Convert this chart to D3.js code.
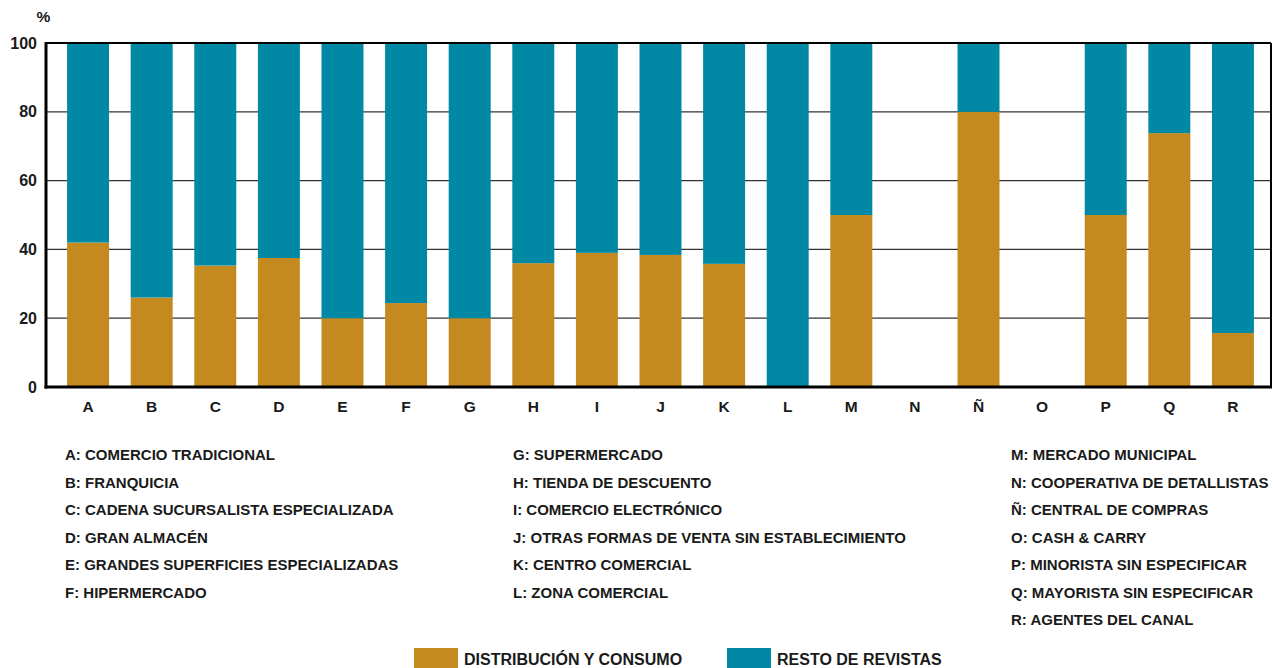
<!DOCTYPE html>
<html>
<head>
<meta charset="utf-8">
<script src="https://cdn.jsdelivr.net/npm/d3@7"></script>
<style>
  html, body { margin: 0; padding: 0; background: #fff; }
  svg text { font-family: "Liberation Sans", Arial, sans-serif; font-weight: bold; fill: #1a1a1a; }
</style>
</head>
<body>
<svg id="chart" width="1273" height="668"></svg>
<script>
const categories = ["A","B","C","D","E","F","G","H","I","J","K","L","M","N","Ñ","O","P","Q","R"];
const distribucion = [42, 26, 35.3, 37.5, 20, 24.4, 20, 36, 39, 38.4, 35.8, 0, 50, 0, 80, 0, 50, 73.8, 15.7];
const resto =        [58, 74, 64.7, 62.5, 80, 75.6, 80, 64, 61, 61.6, 64.2, 100, 50, 0, 20, 0, 50, 26.2, 84.3];
const yTicks = [0, 20, 40, 60, 80, 100];
const seriesNames = ["DISTRIBUCIÓN Y CONSUMO", "RESTO DE REVISTAS"];
const seriesColors = ["#C4891F", "#0088A5"];
const categoryNames = [
  "A: COMERCIO TRADICIONAL", "B: FRANQUICIA", "C: CADENA SUCURSALISTA ESPECIALIZADA",
  "D: GRAN ALMACÉN", "E: GRANDES SUPERFICIES ESPECIALIZADAS", "F: HIPERMERCADO",
  "G: SUPERMERCADO", "H: TIENDA DE DESCUENTO", "I: COMERCIO ELECTRÓNICO",
  "J: OTRAS FORMAS DE VENTA SIN ESTABLECIMIENTO", "K: CENTRO COMERCIAL", "L: ZONA COMERCIAL",
  "M: MERCADO MUNICIPAL", "N: COOPERATIVA DE DETALLISTAS", "Ñ: CENTRAL DE COMPRAS",
  "O: CASH & CARRY", "P: MINORISTA SIN ESPECIFICAR", "Q: MAYORISTA SIN ESPECIFICAR",
  "R: AGENTES DEL CANAL"
];

const svg = d3.select("#chart");
const plot = { left: 46, right: 1271, top: 43, bottom: 387 };

const x = d3.scaleBand().domain(categories).range([plot.left + 2, plot.right + 2]).paddingInner(0.34).paddingOuter(0.3);
const y = d3.scaleLinear().domain([0, 100]).range([plot.bottom, plot.top]);

// gridlines
svg.append("g").selectAll("line").data(yTicks.filter(t => t > 0 && t < 100)).join("line")
  .attr("x1", plot.left).attr("x2", plot.right)
  .attr("y1", d => y(d)).attr("y2", d => y(d))
  .attr("stroke", "#333").attr("stroke-width", 1.2);

// stacked data
const rows = categories.map((c, i) => ({ cat: c, dist: distribucion[i], resto: resto[i] }));
const stack = d3.stack().keys(["dist", "resto"])(rows);

svg.append("g").selectAll("g").data(stack).join("g")
  .attr("fill", (d, i) => seriesColors[i])
  .selectAll("rect").data(d => d).join("rect")
  .attr("x", d => x(d.data.cat))
  .attr("width", x.bandwidth())
  .attr("y", d => y(d[1]))
  .attr("height", d => Math.max(0, y(d[0]) - y(d[1])));

// frame
svg.append("line").attr("x1", plot.left).attr("x2", plot.right).attr("y1", plot.top).attr("y2", plot.top)
  .attr("stroke", "#000").attr("stroke-width", 2);
svg.append("line").attr("x1", plot.right).attr("x2", plot.right).attr("y1", plot.top).attr("y2", plot.bottom)
  .attr("stroke", "#000").attr("stroke-width", 2);
svg.append("line").attr("x1", plot.left).attr("x2", plot.left).attr("y1", plot.top - 1).attr("y2", plot.bottom + 1.5)
  .attr("stroke", "#000").attr("stroke-width", 3);
svg.append("line").attr("x1", plot.left - 1.5).attr("x2", plot.right + 1).attr("y1", plot.bottom).attr("y2", plot.bottom)
  .attr("stroke", "#000").attr("stroke-width", 3);

const FONT = "'Liberation Sans', Arial, sans-serif";

// y axis labels
const yAxis = d3.axisLeft(y).tickValues(yTicks).tickSize(0).tickPadding(9);
const yg = svg.append("g").attr("transform", `translate(${plot.left},0)`).call(yAxis);
yg.select(".domain").remove();
yg.selectAll("text").attr("font-size", 16).style("font-family", FONT).style("font-weight", "bold").attr("fill", "#1a1a1a");

svg.append("text").attr("x", 43.5).attr("y", 22).attr("text-anchor", "middle").attr("font-size", 15.5).text("%");

// x axis labels
const xAxis = d3.axisBottom(x).tickSize(0).tickPadding(14);
const xg = svg.append("g").attr("transform", `translate(0,${plot.bottom})`).call(xAxis);
xg.select(".domain").remove();
xg.selectAll("text").attr("font-size", 15.5).style("font-family", FONT).style("font-weight", "bold").attr("fill", "#1a1a1a");

// category key
const colX = [65, 513, 1011];
const colStarts = [0, 6, 12];
categoryNames.forEach((name, i) => {
  const col = i < 6 ? 0 : (i < 12 ? 1 : 2);
  const row = i - colStarts[col];
  svg.append("text").attr("x", colX[col]).attr("y", 455 + row * 27.5).attr("dy", "0.36em")
    .attr("font-size", 15).text(name);
});

// series legend
const legX = [414, 727];
seriesNames.forEach((name, i) => {
  svg.append("rect").attr("x", legX[i]).attr("y", 648).attr("width", 44).attr("height", 20).attr("fill", seriesColors[i]);
  svg.append("text").attr("x", legX[i] + 50).attr("y", 659).attr("dy", "0.36em").attr("font-size", 16).text(name);
});
</script>
</body>
</html>
